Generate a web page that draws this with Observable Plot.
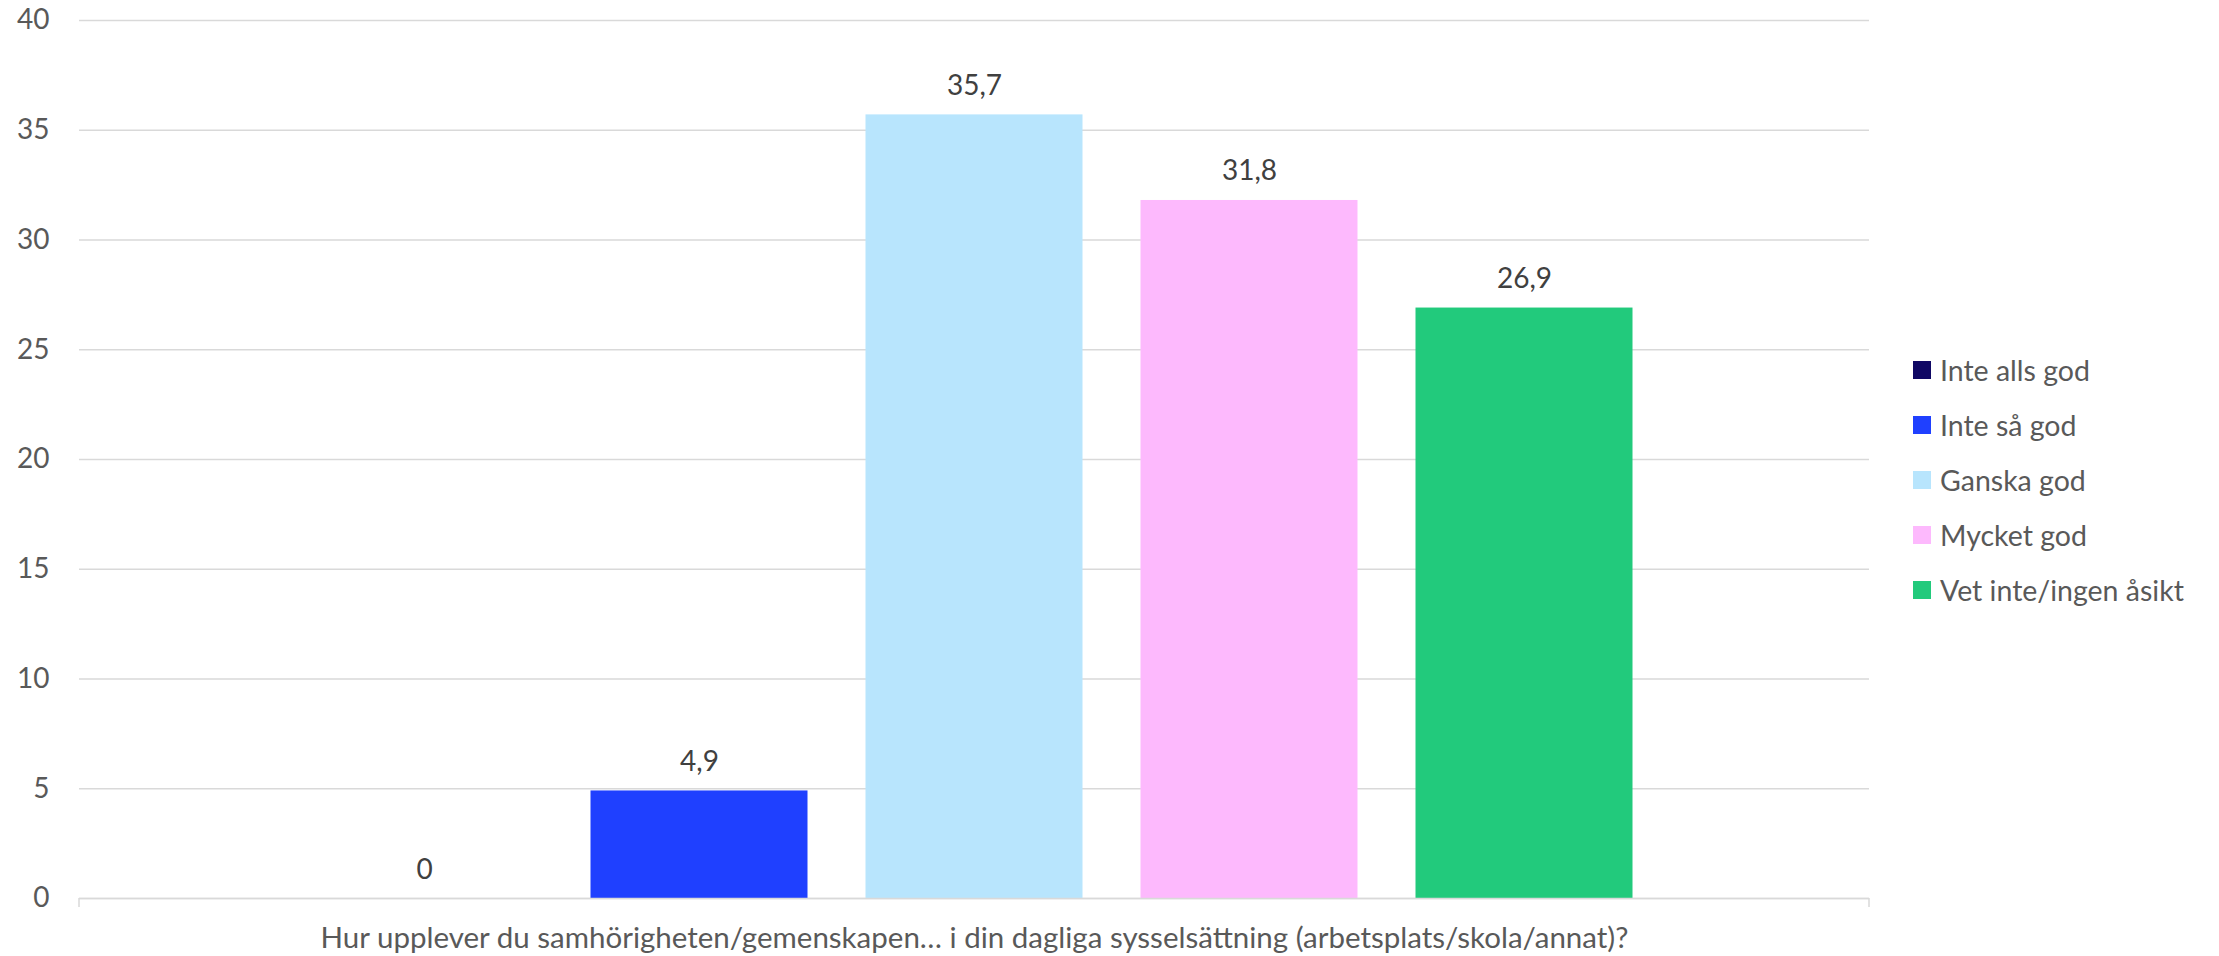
<!DOCTYPE html>
<html>
<head>
<meta charset="utf-8">
<script src="https://cdn.jsdelivr.net/npm/d3@7"></script>
<script src="https://cdn.jsdelivr.net/npm/@observablehq/plot@0.6"></script>
<style>
  html, body { margin: 0; padding: 0; background: #fff; }
  #wrap { position: relative; width: 2219px; height: 956px; font-family: Lato, "Open Sans", sans-serif; }
  #legend { position: absolute; left: 1913px; top: 343px; color: #595959; font-size: 28.5px; }
  .item { display: flex; align-items: center; height: 54.8px; white-space: nowrap; }
  .sw { width: 18px; height: 18px; margin-right: 9px; flex: none; }
</style>
</head>
<body>
<div id="wrap"><div id="chart"></div><div id="legend"></div></div>
<script>
const series = ["Inte alls god", "Inte så god", "Ganska god", "Mycket god", "Vet inte/ingen åsikt"];
const values = [0, 4.9, 35.7, 31.8, 26.9];
const colors = ["#100864", "#1F40FF", "#B8E5FD", "#FDB9FD", "#22CA7C"];
const yTicks = [0, 5, 10, 15, 20, 25, 30, 35, 40];
const question = "Hur upplever du samhörigheten/gemenskapen… i din dagliga sysselsättning (arbetsplats/skola/annat)?";

const data = series.map((s, i) => ({series: s, value: values[i]}));
const fmt = v => String(v).replace(".", ",");

const plot = Plot.plot({
  width: 2219,
  height: 956,
  marginLeft: 79,
  marginRight: 350,
  marginTop: 20,
  marginBottom: 58,
  style: {fontFamily: "Lato, 'Open Sans', sans-serif", background: "#fff"},
  x: {domain: series, paddingInner: 0.2109, paddingOuter: 0.860, round: false, axis: null},
  y: {domain: [0, 40]},
  color: {domain: series, range: colors},
  marks: [
    Plot.gridY(yTicks, {stroke: "#d9d9d9", strokeOpacity: 1, strokeWidth: 1.5}),
    Plot.axisY(yTicks, {tickSize: 0, tickPadding: 30, fontSize: 28, fill: "#595959", label: null}),
    Plot.barY(data, {x: "series", y: "value", fill: "series"}),
    Plot.ruleY([0], {stroke: "#d9d9d9", strokeWidth: 1.5}),
    Plot.text(data, {x: "series", y: "value", text: d => fmt(d.value), lineAnchor: "bottom", dy: -20, fontSize: 28, fill: "#404040"}),
    Plot.text([question], {frameAnchor: "bottom", lineAnchor: "bottom", dy: 49, fontSize: 29.5, fill: "#595959"})
  ]
});
document.getElementById("chart").appendChild(plot);

// category-axis end ticks
const xr = plot.scale("x").range;
const y0 = plot.scale("y").apply(0);
const svg = d3.select(plot);
xr.forEach(xv => {
  svg.append("line").attr("x1", xv).attr("x2", xv).attr("y1", y0).attr("y2", y0 + 9)
    .attr("stroke", "#d9d9d9").attr("stroke-width", 1.5);
});

const legend = d3.select("#legend");
series.forEach((s, i) => {
  const it = legend.append("div").attr("class", "item");
  it.append("div").attr("class", "sw").style("background", colors[i]);
  it.append("span").text(s);
});
</script>
</body>
</html>
